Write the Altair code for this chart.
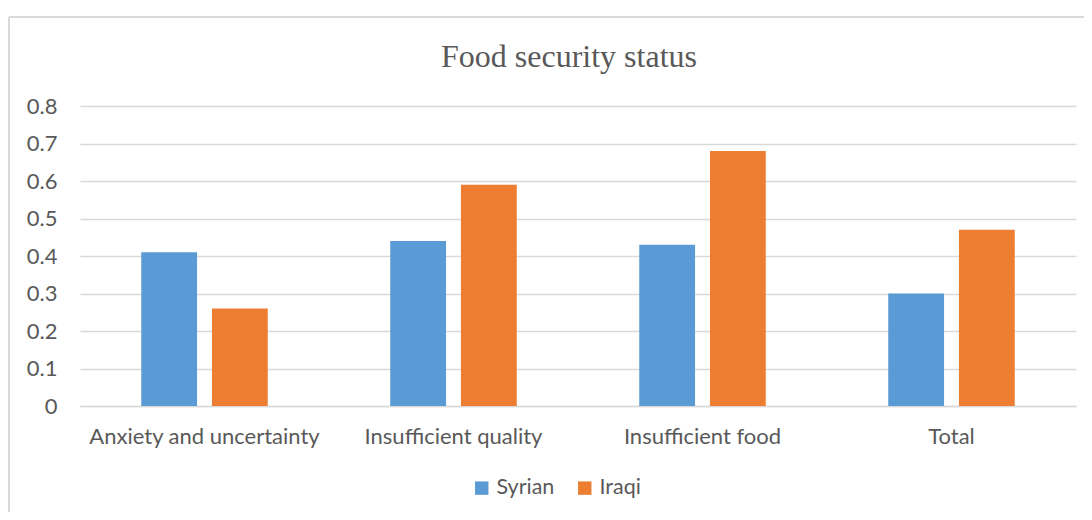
import altair as alt
import pandas as pd

categories = ["Anxiety and uncertainty", "Insufficient quality", "Insufficient food", "Total"]
series = ["Syrian", "Iraqi"]
syrian = [0.41, 0.44, 0.43, 0.30]
iraqi = [0.26, 0.59, 0.68, 0.47]
colors = ["#5B9BD5", "#ED7D31"]
y_ticks = [0, 0.1, 0.2, 0.3, 0.4, 0.5, 0.6, 0.7, 0.8]
title_text = ["Food security status"]

rows = []
for c, s, i in zip(categories, syrian, iraqi):
    rows.append({"category": c, "series": "Syrian", "value": s})
    rows.append({"category": c, "series": "Iraqi", "value": i})
df = pd.DataFrame(rows)
title_df = pd.DataFrame({"t": title_text})

FONT = "Lato"
TXT = "#595959"
GRID = "#D9D9D9"

bars = alt.Chart(df).mark_bar().encode(
    x=alt.X("category:N", sort=categories,
            scale=alt.Scale(paddingInner=0, paddingOuter=0),
            axis=alt.Axis(title=None, labelAngle=0, ticks=False, domain=True,
                          domainColor=GRID, domainWidth=1.5, labelPadding=20,
                          labelFontSize=22, labelColor=TXT, labelFont=FONT,
                          labelLimit=0, grid=False)),
    xOffset=alt.XOffset("series:N", sort=series,
                        scale=alt.Scale(paddingInner=0.211, paddingOuter=0.866)),
    y=alt.Y("value:Q", scale=alt.Scale(domain=[0, 0.8], nice=False),
            axis=alt.Axis(title=None, values=y_ticks, format=".1~f", ticks=False,
                          domain=False, gridColor=GRID, gridWidth=1.5,
                          labelPadding=23, labelFontSize=22, labelColor=TXT,
                          labelFont=FONT)),
    color=alt.Color("series:N", sort=series,
                    scale=alt.Scale(domain=series, range=colors),
                    legend=alt.Legend(title=None, orient="none", direction="horizontal",
                                      legendX=391, legendY=371, symbolType="square",
                                      symbolSize=180, symbolStrokeWidth=0,
                                      labelFontSize=21.5, labelColor=TXT, labelFont=FONT,
                                      columnPadding=19, labelOffset=4)),
)

border_top = alt.Chart(title_df).mark_rule(color=GRID, strokeWidth=2).encode(
    x=alt.value(-71), x2=alt.value(1100), y=alt.value(-89)
)
border_left = alt.Chart(title_df).mark_rule(color=GRID, strokeWidth=2).encode(
    x=alt.value(-71), y=alt.value(-89), y2=alt.value(520)
)
title = alt.Chart(title_df).mark_text(
    font="Liberation Serif", fontSize=32, color=TXT, align="center",
    baseline="alphabetic"
).encode(x=alt.value(489), y=alt.value(-39.5), text="t:N")

chart = alt.layer(border_top, border_left, title, bars).properties(
    width=996,
    height=300,
    autosize="none",
    padding={"left": 72, "top": 98, "right": 8, "bottom": 106},
).configure_view(stroke=None)

chart.save("out.html", embed_options={"renderer": "svg", "actions": False})
